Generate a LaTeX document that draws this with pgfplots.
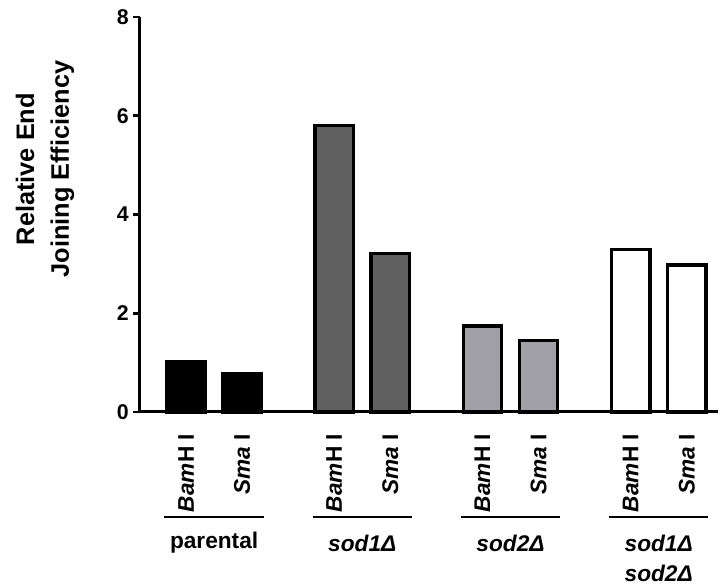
\documentclass[border=0pt]{standalone}
\usepackage{fontspec}
\setmainfont{Liberation Sans}
\usepackage{pgfplots}
\pgfplotsset{compat=1.18}
\definecolor{darkbar}{RGB}{96,96,96}
\definecolor{lightbar}{RGB}{160,160,166}
\begin{document}
\begin{tikzpicture}
\begin{axis}[
  name=ax,
  scale only axis,
  width=433.5pt, height=296.25pt,
  xmin=-0.5, xmax=3.4,
  ymin=0, ymax=8,
  clip=false,
  axis x line*=bottom, axis y line*=left,
  axis line style={line width=2.25pt,-},
  ytick={0,2,4,6,8},
  yticklabel style={font=\fontsize{16}{19}\selectfont\bfseries},
  /pgf/number format/assume math mode=true,
  ytick style={line width=2pt, black},
  tick align=outside,
  major tick length=5pt,
  xtick={-0.189,0.189,0.811,1.189,1.811,2.189,2.811,3.189},
  xticklabels={\textit{Bam}H I,\textit{Sma} I,\textit{Bam}H I,\textit{Sma} I,\textit{Bam}H I,\textit{Sma} I,\textit{Bam}H I,\textit{Sma} I},
  xticklabel style={rotate=90, anchor=east, font=\fontsize{17}{20}\selectfont\bfseries},
  xticklabel shift=8pt,
  x tick style={draw=none},
  extra x ticks={0,1,2,3},
  extra x tick labels={},
  extra x tick style={tick style={draw=black, line width=2.25pt}, major tick length=5pt},
]
\addplot[ybar, bar width=0.26, bar shift=0pt, fill=black, draw=black, line width=2.5pt] coordinates {(-0.189,1.02) (0.189,0.78)};
\addplot[ybar, bar width=0.26, bar shift=0pt, fill=darkbar, draw=black, line width=2.5pt] coordinates {(0.811,5.80) (1.189,3.21)};
\addplot[ybar, bar width=0.26, bar shift=0pt, fill=lightbar, draw=black, line width=2.5pt] coordinates {(1.811,1.74) (2.189,1.45)};
\addplot[ybar, bar width=0.26, bar shift=0pt, fill=white, draw=black, line width=2.5pt] coordinates {(2.811,3.29) (3.189,2.98)};

\draw[line width=1.6pt] ([yshift=-78.75pt]axis cs:-0.335,0) -- ([yshift=-78.75pt]axis cs:0.335,0);
\draw[line width=1.6pt] ([yshift=-78.75pt]axis cs:0.665,0) -- ([yshift=-78.75pt]axis cs:1.335,0);
\draw[line width=1.6pt] ([yshift=-78.75pt]axis cs:1.665,0) -- ([yshift=-78.75pt]axis cs:2.335,0);
\draw[line width=1.6pt] ([yshift=-78.75pt]axis cs:2.665,0) -- ([yshift=-78.75pt]axis cs:3.335,0);
\node[font=\fontsize{17}{20}\selectfont\bfseries] at ([yshift=-98.25pt]axis cs:0,0) {parental};
\node[font=\fontsize{17}{20}\selectfont\bfseries\itshape] at ([yshift=-98.25pt]axis cs:1,0) {sod1Δ};
\node[font=\fontsize{17}{20}\selectfont\bfseries\itshape] at ([yshift=-98.25pt]axis cs:2,0) {sod2Δ};
\node[font=\fontsize{17}{20}\selectfont\bfseries\itshape] at ([yshift=-98.25pt]axis cs:3,0) {sod1Δ};
\node[font=\fontsize{17}{20}\selectfont\bfseries\itshape] at ([yshift=-120.75pt]axis cs:3,0) {sod2Δ};

\node[rotate=90, align=center, font=\fontsize{19}{26}\selectfont\bfseries] at ([xshift=-71.25pt]rel axis cs:0,0.615) {Relative End\\Joining Efficiency};
\end{axis}
\pgfresetboundingbox
\path ([xshift=-105pt,yshift=-129pt]ax.south west) rectangle ([xshift=1.5pt,yshift=12.75pt]ax.north east);
\end{tikzpicture}
\end{document}
